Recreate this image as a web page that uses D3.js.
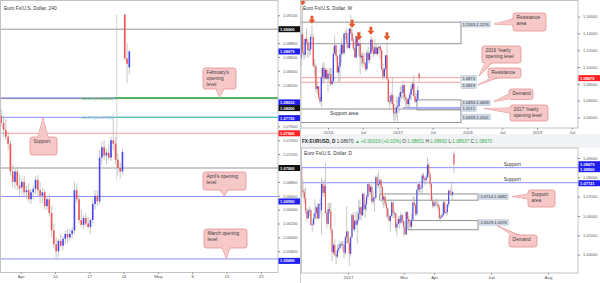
<!DOCTYPE html>
<html>
<head>
<meta charset="utf-8">
<script src="https://cdn.jsdelivr.net/npm/d3@7"></script>
<style>
  body { margin: 0; background: #fff; }
  svg { display: block; font-family: "Liberation Sans", Arial, sans-serif; }
</style>
</head>
<body>
<div id="chart"></div>
<script>
////////////////////////////////////////////////////////////////////
////////////////////////////  Data  ////////////////////////////////

// 4h panel, drawn as 8h bars [open, high, low, close]; first bar = Mar 29 (day -3 from Apr 3)
const h4StartDay = -3;
const h4Bars = [
  [1.0775,1.0785,1.0760,1.0765],[1.0765,1.0775,1.0745,1.0755],[1.0755,1.0770,1.0740,1.0745],
  [1.0745,1.0752,1.0725,1.0735],[1.0735,1.0740,1.0690,1.0695],[1.0695,1.0705,1.0672,1.0680],
  [1.0680,1.0700,1.0670,1.0695],[1.0695,1.0702,1.0668,1.0675],[1.0675,1.0690,1.0660,1.0670],
  [1.0672,1.0685,1.0662,1.0680],[1.0680,1.0688,1.0660,1.0665],[1.0665,1.0675,1.0655,1.0668],
  [1.0668,1.0678,1.0650,1.0655],[1.0655,1.0670,1.0648,1.0665],[1.0665,1.0675,1.0655,1.0670],
  [1.0670,1.0688,1.0662,1.0683],[1.0683,1.0690,1.0660,1.0668],[1.0668,1.0680,1.0650,1.0660],
  [1.0660,1.0672,1.0650,1.0665],[1.0665,1.0670,1.0640,1.0645],[1.0645,1.0660,1.0640,1.0655],
  [1.0655,1.0662,1.0630,1.0635],[1.0635,1.0645,1.0600,1.0610],[1.0610,1.0620,1.0585,1.0590],
  [1.0590,1.0600,1.0570,1.0580],[1.0580,1.0598,1.0572,1.0595],[1.0595,1.0605,1.0585,1.0588],
  [1.0588,1.0602,1.0582,1.0598],[1.0598,1.0610,1.0590,1.0605],[1.0605,1.0612,1.0592,1.0600],
  [1.0600,1.0612,1.0595,1.0605],[1.0605,1.0615,1.0598,1.0610],[1.0610,1.0680,1.0605,1.0668],
  [1.0668,1.0678,1.0650,1.0655],[1.0655,1.0662,1.0620,1.0625],[1.0625,1.0640,1.0615,1.0618],
  [1.0618,1.0632,1.0612,1.0628],[1.0628,1.0635,1.0615,1.0620],[1.0620,1.0630,1.0612,1.0615],
  [1.0615,1.0628,1.0605,1.0625],[1.0625,1.0655,1.0620,1.0648],[1.0648,1.0668,1.0640,1.0660],
  [1.0660,1.0668,1.0645,1.0652],[1.0652,1.0725,1.0648,1.0715],[1.0715,1.0738,1.0705,1.0730],
  [1.0730,1.0740,1.0712,1.0718],[1.0718,1.0728,1.0705,1.0722],[1.0722,1.0735,1.0712,1.0715],
  [1.0715,1.0745,1.0710,1.0740],[1.0740,1.0777,1.0725,1.0735],[1.0735,1.0745,1.0705,1.0712],
  [1.0712,1.0722,1.0690,1.0700],[1.0700,1.0708,1.0685,1.0695],[1.0695,1.0728,1.0690,1.0723],
  [1.0921,1.0922,1.0855,1.0858],[1.0858,1.0880,1.0822,1.0850],[1.0845,1.0870,1.0835,1.0868]
];
const h4TickDays = [0, 5, 10, 15, 20, 25, 30, 35];
const h4TickLabels = ["Apr", "10", "17", "24", "May", "8", "15", "22"];
const h4PriceTicks = [1.056,1.058,1.060,1.062,1.064,1.066,1.068,1.070,1.072,1.074,1.076,1.078,1.080,1.082,1.084,1.086,1.088,1.090,1.092];
const h4Levels = [
  { price: 1.0900, kind: "dotBlack" },
  { price: 1.0801, kind: "blue" },
  { price: 1.0800, kind: "dotBlack" },
  { price: 1.0773, kind: "blue" },
  { price: 1.0750, kind: "dotRed" },
  { price: 1.0700, kind: "dotBlack" },
  { price: 1.0659, kind: "blue" },
  { price: 1.0569, kind: "blue" }
];
const fibStartDay = 13.6;
const fibLevels = [
  { label: "50.0%(1.08010)", price: 1.0801, color: "#2fbf2f" },
  { label: "61.8%(1.07730)", price: 1.0773, color: "#45c9aa" }
];
const h4Tags = [
  { price: 1.09000, text: "1.09000", bg: "#111", dy: 0 },
  { price: 1.08679, text: "1.08679", bg: "#1e1ef0", dy: 0 },
  { price: 1.08010, text: "1.08010", bg: "#1e1ef0", dy: 4.5 },
  { price: 1.08000, text: "1.08000", bg: "#111", dy: 9.5 },
  { price: 1.07730, text: "1.07730", bg: "#1e1ef0", dy: 0.8 },
  { price: 1.07500, text: "1.07500", bg: "#f22", dy: 0 },
  { price: 1.07000, text: "1.07000", bg: "#111", dy: 0 },
  { price: 1.06590, text: "1.06590", bg: "#1e1ef0", dy: 5 },
  { price: 1.05690, text: "1.05690", bg: "#1e1ef0", dy: 2 }
];

// weekly panel [open, high, low, close]; bar 0 = week of Aug 17 2015
const weekBars = [
  [1.1105,1.1440,1.1017,1.1385],[1.1390,1.1714,1.1155,1.1182],[1.1182,1.1332,1.1087,1.1146],
  [1.1146,1.1331,1.1100,1.1335],[1.1338,1.1460,1.1260,1.1297],[1.1297,1.1330,1.1105,1.1198],
  [1.1198,1.1288,1.1120,1.1210],[1.1210,1.1390,1.1150,1.1357],[1.1357,1.1495,1.1330,1.1350],
  [1.1350,1.1390,1.1000,1.1015],[1.1015,1.1095,1.0896,1.1005],[1.1005,1.1040,1.0705,1.0740],
  [1.0740,1.0830,1.0675,1.0770],[1.0770,1.0770,1.0615,1.0645],[1.0645,1.0680,1.0560,1.0590],
  [1.0590,1.0980,1.0525,1.0880],[1.0880,1.1045,1.0800,1.0990],[1.0990,1.1060,1.0805,1.0865],
  [1.0865,1.0990,1.0850,1.0965],[1.0965,1.0990,1.0850,1.0860],[1.0860,1.0960,1.0710,1.0920],
  [1.0920,1.0990,1.0805,1.0915],[1.0915,1.0990,1.0775,1.0795],[1.0795,1.0985,1.0805,1.0830],
  [1.0830,1.1245,1.0810,1.1155],[1.1155,1.1375,1.1150,1.1255],[1.1255,1.1265,1.1065,1.1130],
  [1.1130,1.1145,1.0935,1.0935],[1.0935,1.1050,1.0820,1.1005],[1.1005,1.1220,1.0822,1.1150],
  [1.1150,1.1340,1.1055,1.1265],[1.1265,1.1280,1.1145,1.1165],[1.1165,1.1410,1.1145,1.1395],
  [1.1395,1.1435,1.1325,1.1400],[1.1400,1.1465,1.1235,1.1285],[1.1285,1.1400,1.1215,1.1225],
  [1.1225,1.1460,1.1215,1.1455],[1.1455,1.1616,1.1385,1.1400],[1.1400,1.1450,1.1310,1.1310],
  [1.1310,1.1350,1.1200,1.1220],[1.1220,1.1230,1.1110,1.1115],[1.1115,1.1365,1.1098,1.1365],
  [1.1365,1.1416,1.1250,1.1250],[1.1250,1.1300,1.1130,1.1280],[1.1280,1.1427,1.0912,1.1115],
  [1.1115,1.1165,1.1030,1.1135],[1.1135,1.1185,1.0995,1.1050],[1.1050,1.1165,1.1020,1.1040],
  [1.1040,1.1060,1.0950,1.0975],[1.0975,1.1200,1.0950,1.1170],[1.1170,1.1240,1.1050,1.1085],
  [1.1085,1.1185,1.1045,1.1160],[1.1160,1.1366,1.1155,1.1325],[1.1325,1.1340,1.1180,1.1195],
  [1.1195,1.1250,1.1120,1.1155],[1.1155,1.1330,1.1150,1.1235],[1.1235,1.1285,1.1150,1.1155],
  [1.1155,1.1240,1.1125,1.1225],[1.1225,1.1260,1.1160,1.1240],[1.1240,1.1260,1.1090,1.1200],
  [1.1200,1.1210,1.0960,1.0970],[1.0970,1.1035,1.0850,1.0885],[1.0885,1.0985,1.0860,1.0980],
  [1.0980,1.1125,1.0950,1.1140],[1.1140,1.1299,1.0850,1.0855],[1.0855,1.0855,1.0580,1.0590],
  [1.0590,1.0655,1.0518,1.0590],[1.0590,1.0700,1.0560,1.0665],[1.0665,1.0874,1.0505,1.0560],
  [1.0560,1.0670,1.0367,1.0450],[1.0450,1.0475,1.0352,1.0455],[1.0455,1.0650,1.0400,1.0520],
  [1.0520,1.0620,1.0339,1.0535],[1.0535,1.0685,1.0455,1.0645],[1.0645,1.0775,1.0580,1.0700],
  [1.0700,1.0775,1.0620,1.0695],[1.0695,1.0829,1.0620,1.0785],[1.0785,1.0790,1.0590,1.0640],
  [1.0640,1.0680,1.0520,1.0615],[1.0615,1.0630,1.0494,1.0560],[1.0560,1.0640,1.0495,1.0620],
  [1.0620,1.0700,1.0525,1.0670],[1.0670,1.0780,1.0600,1.0740],[1.0740,1.0830,1.0715,1.0800],
  [1.0800,1.0906,1.0650,1.0652],[1.0652,1.0710,1.0570,1.0590],[1.0590,1.0680,1.0570,1.0615],
  [1.0615,1.0778,1.0605,1.0725],[1.0920,1.0937,1.0822,1.0868]
];
const weekTickIdx = [20, 46, 72, 98, 124, 150, 176, 202];
const weekTickLabels = ["2016", "Jul", "2017", "Jul", "2018", "Jul", "2019", "Jul"];
const weekPriceTicks = [1.04, 1.06, 1.08, 1.10, 1.12, 1.14, 1.16];
const weekArrowIdx = [1, 8, 38, 43, 52, 64];

// daily panel [open, high, low, close]; bar 0 = Nov 10 2016
const dayBars = [
  [1.0910,1.0955,1.0870,1.0898],[1.0898,1.0905,1.0825,1.0854],[1.0854,1.0860,1.0710,1.0735],
  [1.0735,1.0790,1.0700,1.0722],[1.0722,1.0740,1.0665,1.0690],[1.0690,1.0750,1.0610,1.0628],
  [1.0628,1.0640,1.0570,1.0588],[1.0588,1.0640,1.0585,1.0628],[1.0628,1.0650,1.0600,1.0630],
  [1.0630,1.0640,1.0550,1.0553],[1.0553,1.0578,1.0518,1.0556],[1.0556,1.0615,1.0550,1.0590],
  [1.0590,1.0686,1.0580,1.0615],[1.0615,1.0655,1.0583,1.0645],[1.0645,1.0668,1.0583,1.0588],
  [1.0588,1.0665,1.0583,1.0662],[1.0662,1.0690,1.0613,1.0665],[1.0630,1.0796,1.0505,1.0765],
  [1.0765,1.0780,1.0700,1.0720],[1.0720,1.0785,1.0700,1.0755],[1.0755,1.0874,1.0613,1.0615],
  [1.0615,1.0625,1.0537,1.0560],[1.0560,1.0668,1.0555,1.0636],[1.0636,1.0668,1.0610,1.0625],
  [1.0625,1.0668,1.0510,1.0530],[1.0530,1.0530,1.0366,1.0412],[1.0412,1.0460,1.0400,1.0450],
  [1.0450,1.0480,1.0395,1.0400],[1.0400,1.0410,1.0352,1.0390],[1.0390,1.0450,1.0380,1.0425],
  [1.0425,1.0460,1.0410,1.0436],[1.0436,1.0470,1.0430,1.0455],[1.0455,1.0470,1.0440,1.0455],
  [1.0455,1.0470,1.0420,1.0450],[1.0450,1.0470,1.0380,1.0410],[1.0410,1.0500,1.0400,1.0490],
  [1.0490,1.0650,1.0455,1.0520],[1.0520,1.0525,1.0460,1.0460],[1.0460,1.0485,1.0339,1.0405],
  [1.0405,1.0495,1.0390,1.0490],[1.0490,1.0615,1.0485,1.0605],[1.0605,1.0620,1.0525,1.0530],
  [1.0530,1.0585,1.0520,1.0575],[1.0575,1.0620,1.0550,1.0555],[1.0555,1.0625,1.0455,1.0580],
  [1.0580,1.0685,1.0570,1.0610],[1.0610,1.0685,1.0580,1.0645],[1.0645,1.0650,1.0580,1.0605],
  [1.0605,1.0720,1.0600,1.0715],[1.0715,1.0715,1.0625,1.0635],[1.0635,1.0680,1.0590,1.0660],
  [1.0660,1.0710,1.0625,1.0700],[1.0700,1.0775,1.0685,1.0765],[1.0765,1.0770,1.0705,1.0725],
  [1.0725,1.0760,1.0710,1.0750],[1.0750,1.0775,1.0665,1.0675],[1.0675,1.0720,1.0660,1.0695],
  [1.0695,1.0700,1.0620,1.0695],[1.0695,1.0810,1.0680,1.0800],[1.0800,1.0810,1.0740,1.0760],
  [1.0760,1.0829,1.0745,1.0765],[1.0765,1.0795,1.0710,1.0785],[1.0785,1.0790,1.0705,1.0750],
  [1.0750,1.0755,1.0660,1.0685],[1.0685,1.0710,1.0640,1.0700],[1.0700,1.0705,1.0650,1.0665],
  [1.0665,1.0675,1.0590,1.0640],[1.0640,1.0645,1.0585,1.0600],[1.0600,1.0610,1.0570,1.0575],
  [1.0575,1.0605,1.0520,1.0600],[1.0600,1.0680,1.0595,1.0670],[1.0670,1.0675,1.0590,1.0615],
  [1.0615,1.0630,1.0590,1.0615],[1.0615,1.0615,1.0520,1.0540],[1.0540,1.0570,1.0494,1.0560],
  [1.0560,1.0600,1.0555,1.0585],[1.0585,1.0600,1.0535,1.0565],[1.0565,1.0620,1.0560,1.0605],
  [1.0605,1.0610,1.0560,1.0575],[1.0575,1.0580,1.0495,1.0545],[1.0545,1.0570,1.0505,1.0505],
  [1.0505,1.0625,1.0500,1.0620],[1.0620,1.0625,1.0560,1.0585],[1.0585,1.0600,1.0560,1.0570],
  [1.0570,1.0580,1.0525,1.0545],[1.0545,1.0615,1.0525,1.0580],[1.0580,1.0700,1.0575,1.0670],
  [1.0670,1.0700,1.0645,1.0655],[1.0655,1.0665,1.0600,1.0610],[1.0610,1.0740,1.0600,1.0735],
  [1.0735,1.0760,1.0710,1.0765],[1.0765,1.0780,1.0725,1.0740],[1.0740,1.0760,1.0720,1.0745],
  [1.0745,1.0820,1.0720,1.0810],[1.0810,1.0825,1.0770,1.0795],[1.0795,1.0805,1.0760,1.0785],
  [1.0785,1.0815,1.0765,1.0800],[1.0800,1.0906,1.0795,1.0865],[1.0865,1.0875,1.0800,1.0815],
  [1.0815,1.0825,1.0745,1.0765],[1.0765,1.0775,1.0675,1.0680],[1.0680,1.0705,1.0640,1.0652],
  [1.0652,1.0680,1.0640,1.0670],[1.0670,1.0680,1.0650,1.0665],[1.0665,1.0690,1.0650,1.0660],
  [1.0660,1.0680,1.0630,1.0645],[1.0645,1.0660,1.0580,1.0590],[1.0590,1.0605,1.0570,1.0595],
  [1.0595,1.0615,1.0585,1.0605],[1.0605,1.0680,1.0600,1.0670],[1.0670,1.0680,1.0615,1.0615],
  [1.0615,1.0635,1.0610,1.0620],[1.0620,1.0665,1.0605,1.0660],[1.0660,1.0738,1.0645,1.0730],
  [1.0730,1.0740,1.0705,1.0715],[1.0715,1.0778,1.0705,1.0710],[1.0710,1.0730,1.0685,1.0725],
  [1.0921,1.0935,1.0822,1.0867]
];
const dayTickIdx = [37, 79, 102, 145, 188];
const dayTickLabels = ["2017", "Mar", "Apr", "Jun", "Aug"];
const dayPriceTicks = [1.04, 1.05, 1.06, 1.07, 1.08, 1.09];
const dayTags = [
  { price: 1.08679, text: "1.08679", dy: 0 },
  { price: 1.08500, text: "1.08500", dy: 1.5 },
  { price: 1.07721, text: "1.07721", dy: 0.5 }
];
const headerParts = [
  { t: "FX:EURUSD, D ", c: "#222", b: true },
  { t: "1.08670 ", c: "#333" },
  { t: "▲ +0.00019 (+0.02%) ", c: "#33b040" },
  { t: "O:", c: "#333" }, { t: "1.08651 ", c: "#33b040" },
  { t: "H:", c: "#333" }, { t: "1.08692 ", c: "#33b040" },
  { t: "L:", c: "#333" }, { t: "1.08637 ", c: "#33b040" },
  { t: "C:", c: "#333" }, { t: "1.08670", c: "#33b040" }
];

////////////////////////////////////////////////////////////////////
////////////////////////////  Init  ////////////////////////////////

const width = 600, height = 283;
const UP = "#4444f0", DOWN = "#f05252", WICK = "#b9b9b9";
const BLUE_LINE = "#8c8cff", FRAME = "#b5b5b5";
const CALL_FILL = "#f7c8c8", CALL_STROKE = "#e39090";

const svg = d3.select("#chart").append("svg")
  .attr("width", width).attr("height", height);
const defs = svg.append("defs");

// panel frames
const pL = { x0: 0.5, x1: 278, y0: 0.5, y1: 272.5 };
const pW = { x0: 301, x1: 578, y0: 0.5, y1: 128 };
const pD = { x0: 301.5, x1: 578, y0: 148, y1: 273 };

// scales
const xL = d3.scaleLinear().domain([0, 5]).range([20.7, 55.0]);
const yL = d3.scaleLinear().domain([1.07, 1.09]).range([168, 29.2]);
const xW = d3.scaleLinear().domain([0, 20]).range([301.2, 328]);
const yW = d3.scaleLinear().domain([1.04, 1.16]).range([117.5, 16.5]);
const xD = d3.scaleLinear().domain([0, 37]).range([299, 348]);
const yD = d3.scaleLinear().domain([1.04, 1.09]).range([254.7, 158.0]);

function clipFor(id, p) {
  defs.append("clipPath").attr("id", id).append("rect")
    .attr("x", p.x0).attr("y", p.y0).attr("width", p.x1 - p.x0).attr("height", p.y1 - p.y0);
  return svg.append("g").attr("clip-path", `url(#${id})`);
}

function hline(g, x1, x2, yv, stroke, sw, dash) {
  g.append("line").attr("x1", x1).attr("x2", x2).attr("y1", yv).attr("y2", yv)
    .attr("stroke", stroke).attr("stroke-width", sw || 1)
    .attr("stroke-dasharray", dash || null);
}

function drawCandles(g, bars, xOf, y, bw) {
  const c = g.append("g").selectAll("g").data(bars).join("g");
  c.append("line")
    .attr("x1", (d, i) => xOf(i)).attr("x2", (d, i) => xOf(i))
    .attr("y1", d => y(d[1])).attr("y2", d => y(d[2]))
    .attr("stroke", WICK).attr("stroke-width", 0.8);
  c.append("rect")
    .attr("x", (d, i) => xOf(i) - bw / 2).attr("width", bw)
    .attr("y", d => y(Math.max(d[0], d[3])))
    .attr("height", d => Math.max(0.7, Math.abs(y(d[0]) - y(d[3]))))
    .attr("fill", d => (d[3] >= d[0] ? UP : DOWN));
}

// right price axis; tick texts that would sit under a price tag are dropped
function priceAxis(p, y, ticks, tagYs) {
  const shown = ticks.filter(v => !tagYs.some(ty => Math.abs(y(v) - ty) < 5.2));
  const g = svg.append("g").attr("transform", `translate(${p.x1},0)`)
    .call(d3.axisRight(y).tickValues(shown).tickFormat(d3.format(".5f")).tickSize(2).tickPadding(3));
  g.select(".domain").remove();
  g.selectAll(".tick line").attr("stroke", "#888");
  g.selectAll(".tick text").attr("fill", "#555").attr("font-size", 4).attr("font-family", "Liberation Sans, Arial");
}

function timeAxis(p, x, ticks, labels) {
  const g = svg.append("g").attr("transform", `translate(0,${p.y1})`)
    .call(d3.axisBottom(x).tickValues(ticks).tickFormat((d, i) => labels[i]).tickSize(1.5).tickPadding(1));
  g.select(".domain").remove();
  g.selectAll(".tick line").attr("stroke", "#888");
  g.selectAll(".tick text").attr("fill", "#555").attr("font-size", 4.4).attr("font-family", "Liberation Sans, Arial");
}

function priceTag(x, yc, text, bg) {
  svg.append("rect").attr("x", x).attr("y", yc - 3).attr("width", 21.5).attr("height", 6).attr("fill", bg);
  svg.append("text").attr("x", x + 1.6).attr("y", yc + 1.5).text(text)
    .attr("fill", "#fff").attr("font-size", 4).attr("font-weight", "bold");
}

function levelTag(g, x, yc, text) {
  const t = g.append("text").attr("x", x + 1.4).attr("y", yc + 1.5).text(text)
    .attr("fill", "#333").attr("font-size", 4.1);
  const w = t.node().getComputedTextLength();
  g.insert("rect", () => t.node()).attr("x", x).attr("y", yc - 2.7)
    .attr("width", w + 2.8).attr("height", 5.4)
    .attr("fill", "#d2dbe7").attr("stroke", "#a4b4c8").attr("stroke-width", 0.4);
}

// callout: box [x,y,w,h], side of the pointer, two base positions along that side, tip point
function callout(g, box, lines, side, b0, b1, tip) {
  const [bx, by, bw, bh] = box;
  let base, inner;
  if (side === "top") { base = [[b0, by], [b1, by]]; inner = [[b0, by + 1], [b1, by + 1]]; }
  if (side === "bottom") { base = [[b0, by + bh], [b1, by + bh]]; inner = [[b0, by + bh - 1], [b1, by + bh - 1]]; }
  if (side === "left") { base = [[bx, b0], [bx, b1]]; inner = [[bx + 1, b0], [bx + 1, b1]]; }
  const line = d3.line();
  g.append("path").attr("d", line([base[0], tip, base[1]]) + "Z")
    .attr("fill", CALL_FILL).attr("stroke", CALL_STROKE).attr("stroke-width", 0.8);
  g.append("rect").attr("x", bx).attr("y", by).attr("width", bw).attr("height", bh).attr("rx", 2.5)
    .attr("fill", CALL_FILL).attr("stroke", CALL_STROKE).attr("stroke-width", 0.8);
  g.append("path").attr("d", line([inner[0], tip, inner[1]]) + "Z").attr("fill", CALL_FILL);
  lines.forEach((t, i) => {
    g.append("text").attr("x", bx + 3.5).attr("y", by + 6.3 + i * 5.6).text(t)
      .attr("fill", "#3a3a3a").attr("font-size", 4.8);
  });
}

////////////////////////////////////////////////////////////////////
//////////////////////////  Left: 4h  //////////////////////////////

const gL = clipFor("clipL", pL);

h4Levels.forEach(l => {
  if (l.kind === "blue") hline(gL, pL.x0, pL.x1, yL(l.price), BLUE_LINE, 1);
  if (l.kind === "dotBlack") hline(gL, pL.x0, pL.x1, yL(l.price), "#333", 1, "1,1");
  if (l.kind === "dotRed") hline(gL, pL.x0, pL.x1, yL(l.price), "#f03c3c", 1, "1,1");
});

fibLevels.forEach(f => {
  hline(gL, xL(fibStartDay), pL.x1, yL(f.price), f.color, 1.3);
  gL.append("text").attr("x", xL(fibStartDay) - 1).attr("y", yL(f.price) + 1.6)
    .attr("text-anchor", "end").attr("fill", f.color).attr("font-size", 4.4).text(f.label);
});

// session marker
gL.append("line").attr("x1", xL(14)).attr("x2", xL(14))
  .attr("y1", yL(1.0920)).attr("y2", yL(1.0683))
  .attr("stroke", "#999").attr("stroke-width", 0.8).attr("stroke-dasharray", "1,1");

drawCandles(gL, h4Bars, i => xL(h4StartDay + i / 3 + 1 / 6), yL, 1.6);

gL.append("text").attr("x", 4).attr("y", 10).text("Euro Fx/U.S. Dollar, 240")
  .attr("fill", "#333").attr("font-size", 4.9);

callout(svg, [203, 68, 33, 21], ["February's", "opening", "level"], "bottom", 216, 224, [xL(29), yL(1.0801) - 0.5]);
callout(svg, [30, 137, 27, 18], ["Support"], "top", 38, 48, [xL(3.25), yL(1.0773) + 0.5]);
callout(svg, [203, 172, 43, 18], ["April's opening", "level"], "bottom", 220, 228, [xL(29.7), yL(1.0659) - 0.5]);
callout(svg, [204, 229, 43, 19], ["March opening", "level"], "bottom", 222, 230, [xL(30), yL(1.0569) - 0.5]);

////////////////////////////////////////////////////////////////////
//////////////////////////  Top right: weekly  /////////////////////

const gW = clipFor("clipW", pW);
const levelEnd = 461;

gW.append("rect").attr("x", pW.x0 - 2).attr("y", yW(1.1533)).attr("width", levelEnd - pW.x0 + 2)
  .attr("height", yW(1.1276) - yW(1.1533)).attr("fill", "none").attr("stroke", "#777").attr("stroke-width", 0.8);
gW.append("rect").attr("x", pW.x0 - 2).attr("y", yW(1.0501)).attr("width", levelEnd - pW.x0 + 2)
  .attr("height", yW(1.0339) - yW(1.0501)).attr("fill", "none").attr("stroke", "#777").attr("stroke-width", 0.8);
gW.append("rect").attr("x", xW(86.4)).attr("y", yW(1.0609)).attr("width", levelEnd - xW(86.4))
  .attr("height", yW(1.0490) - yW(1.0609)).attr("fill", "none").attr("stroke", "#777").attr("stroke-width", 0.8);
hline(gW, pW.x0, levelEnd, yW(1.0873), "#f3a0a0", 1);
hline(gW, pW.x0, levelEnd, yW(1.0819), "#f3a0a0", 1);
hline(gW, xW(76), levelEnd, yW(1.0515), "#a3a3ff", 1.5);

drawCandles(gW, weekBars, i => xW(i), yW, 1.3);

weekArrowIdx.forEach(i => {
  const tx = xW(i), ty = yW(weekBars[i][1]) - 1.5;
  const pts = [[0, 0], [-3.5, -4], [-1.4, -4], [-1.4, -8], [1.4, -8], [1.4, -4], [3.5, -4]]
    .map(p => [tx + p[0], ty + p[1]]);
  gW.append("path").attr("d", d3.line()(pts) + "Z").attr("fill", "#e65a2e");
});

gW.append("text").attr("x", 303).attr("y", 10).text("Euro Fx/U.S. Dollar, W")
  .attr("fill", "#333").attr("font-size", 4.9);
gW.append("text").attr("x", xW(21.5)).attr("y", yW(1.0425)).text("Support area")
  .attr("fill", "#333").attr("font-size", 4.9);

levelTag(svg, levelEnd, yW(1.1533) + 2.2, "1.1533-1.1276");
levelTag(svg, levelEnd, yW(1.0873) + 0.5, "1.0873");
levelTag(svg, levelEnd, yW(1.0819) + 3.6, "1.0819");
levelTag(svg, levelEnd, yW(1.0609) + 3, "1.0490-1.0609");
levelTag(svg, levelEnd, yW(1.0515) + 0.8, "1.0515");
levelTag(svg, levelEnd, yW(1.0339) - 5.5, "1.0339-1.0501");

callout(svg, [513, 13, 33, 18], ["Resistance", "area"], "left", 19, 25, [494, 24]);
callout(svg, [482, 46, 39, 17], ["2016 Yearly", "opening level"], "bottom", 485, 492, [479, 76]);
callout(svg, [488, 68, 33, 10], ["Resistance"], "bottom", 491, 497, [478, 85]);
callout(svg, [509, 89, 24, 10.5], ["Demand"], "left", 94, 99, [494, 101.5]);
callout(svg, [510, 105, 38, 16], ["2017 Yearly", "opening level"], "left", 108, 113, [484, 108.5]);

////////////////////////////////////////////////////////////////////
//////////////////////////  Bottom right: daily  ///////////////////

// header band
svg.append("rect").attr("x", 300.5).attr("y", 134).attr("width", 299.5).attr("height", 14).attr("fill", "#f1f3f7");
const hdr = svg.append("text").attr("x", 302).attr("y", 143).attr("font-size", 4.7);
headerParts.forEach(p => hdr.append("tspan").text(p.t).attr("fill", p.c).attr("font-weight", p.b ? "bold" : null));
svg.append("rect").attr("x", pD.x0).attr("y", pD.y0).attr("width", pD.x1 - pD.x0).attr("height", pD.y1 - pD.y0).attr("fill", "#fff");

const gD = clipFor("clipD", pD);

hline(gD, pD.x0, pD.x1, yD(1.0850), BLUE_LINE, 1);
hline(gD, pD.x0, pD.x1, yD(1.07721), BLUE_LINE, 1);
gD.append("rect").attr("x", xD(61)).attr("y", yD(1.0714)).attr("width", 478 - xD(61))
  .attr("height", yD(1.0682) - yD(1.0714)).attr("fill", "none").attr("stroke", "#777").attr("stroke-width", 0.8);
gD.append("rect").attr("x", xD(82.3)).attr("y", yD(1.0576)).attr("width", 478 - xD(82.3))
  .attr("height", yD(1.0529) - yD(1.0576)).attr("fill", "none").attr("stroke", "#777").attr("stroke-width", 0.8);

drawCandles(gD, dayBars, i => xD(i), yD, 1.1);

gD.append("text").attr("x", 304).attr("y", 155).text("Euro Fx/U.S. Dollar, D")
  .attr("fill", "#333").attr("font-size", 4.9);
[1.0850, 1.07721].forEach(p => {
  gD.append("text").attr("x", xD(161)).attr("y", yD(p) - 1.8).attr("text-anchor", "middle")
    .text("Support").attr("fill", "#333").attr("font-size", 4.9);
});

levelTag(svg, 479, yD(1.0714) + 2.6, "1.0714-1.0682");
levelTag(svg, 479, yD(1.0576) + 1.8, "1.0529-1.0576");

callout(svg, [528, 190, 27, 17], ["Support", "area"], "left", 194, 199, [512, 196.5]);
callout(svg, [509, 235, 28, 12], ["Demand"], "top", 512, 519, [497, 225.5]);

////////////////////////////////////////////////////////////////////
//////////////////////////  Frames & axes  /////////////////////////

[pL, pW, pD].forEach(p => {
  svg.append("rect").attr("x", p.x0).attr("y", p.y0).attr("width", p.x1 - p.x0).attr("height", p.y1 - p.y0)
    .attr("fill", "none").attr("stroke", FRAME).attr("stroke-width", 0.8);
});
svg.append("line").attr("x1", 300.5).attr("x2", 300.5).attr("y1", 0).attr("y2", height).attr("stroke", "#ccc");

const h4TagYs = h4Tags.map(t => yL(t.price) + t.dy);
const wTagYs = [yW(1.08679)];
const dTagYs = dayTags.map(t => yD(t.price) + t.dy);

priceAxis(pL, yL, h4PriceTicks, h4TagYs);
timeAxis(pL, xL, h4TickDays, h4TickLabels);
priceAxis(pW, yW, weekPriceTicks, wTagYs);
timeAxis(pW, xW, weekTickIdx, weekTickLabels);
priceAxis(pD, yD, dayPriceTicks, dTagYs);
timeAxis(pD, xD, dayTickIdx, dayTickLabels);

h4Tags.forEach(t => priceTag(pL.x1 + 0.5, yL(t.price) + t.dy, t.text, t.bg));
priceTag(pW.x1 + 0.5, yW(1.08679), "1.08679", "#f22");
dayTags.forEach(t => priceTag(pD.x1 + 0.5, yD(t.price) + t.dy, t.text, "#1e1ef0"));
</script>
</body>
</html>
